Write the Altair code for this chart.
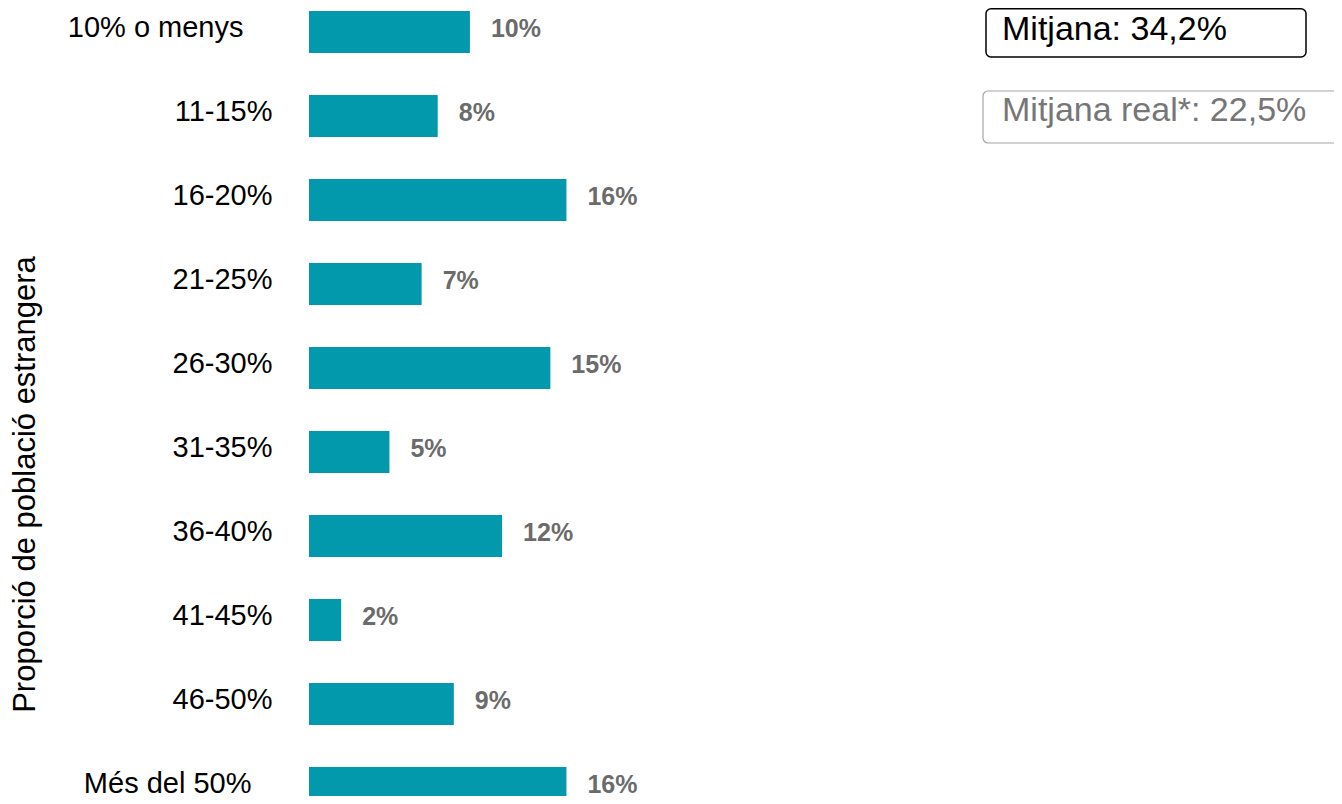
import altair as alt
import pandas as pd

categories = ["10% o menys", "11-15%", "16-20%", "21-25%", "26-30%",
              "31-35%", "36-40%", "41-45%", "46-50%", "Més del 50%"]
values = [10, 8, 16, 7, 15, 5, 12, 2, 9, 16]
value_labels = ["10%", "8%", "16%", "7%", "15%", "5%", "12%", "2%", "9%", "16%"]
box_texts = ["Mitjana: 34,2%", "Mitjana real*: 22,5%"]

df = pd.DataFrame({"cat": categories, "val": values, "lab": value_labels})

FONT = "Liberation Sans"
BAR = "#0399ad"

label_pad = {
    "condition": [
        {"test": "datum.value === '10% o menys'", "value": 66},
        {"test": "datum.value === 'Més del 50%'", "value": 58},
    ],
    "value": 37,
}

y_enc = alt.Y(
    "cat:N", sort=None,
    scale=alt.Scale(range=[0, 798], paddingInner=0.5, paddingOuter=0),
    axis=alt.Axis(
        title="Proporció de població estrangera",
        titleFont=FONT, titleFontSize=31, titleFontWeight="normal", titleColor="#000000",
        titleAngle=270, titleX=-275, titleY=473, titleAlign="center",
        titleBaseline="alphabetic",
        labelFont=FONT, labelFontSize=29, labelColor="#000000",
        labelPadding=label_pad, labelAlign="right", labelBaseline="middle",
        labelOffset=-4, labelLimit=400,
        domain=False, ticks=False, grid=False,
    ),
)
x_enc = alt.X("val:Q", scale=alt.Scale(domain=[0, 63.7]), axis=None)

bars = alt.Chart(df).mark_bar(color=BAR).encode(x=x_enc, y=y_enc)
labels = alt.Chart(df).mark_text(
    align="left", baseline="middle", dx=21, dy=-3, font=FONT, fontSize=25,
    fontWeight="bold", color="#6b6b6b"
).encode(x=x_enc, y=alt.Y("cat:N", sort=None), text="lab:N")

box_df = pd.DataFrame({"t": box_texts})

box1 = alt.Chart(box_df.iloc[[0]]).mark_rect(
    fill="white", stroke="#000000", strokeWidth=1.5, cornerRadius=5
).encode(x=alt.value(677), x2=alt.value(997), y=alt.value(-2.2), y2=alt.value(46))
text1 = alt.Chart(box_df.iloc[[0]]).mark_text(
    align="left", baseline="alphabetic", font=FONT, fontSize=34, color="#000000"
).encode(x=alt.value(693), y=alt.value(29), text="t:N")

box2 = alt.Chart(box_df.iloc[[1]]).mark_rect(
    fill="white", stroke="#a6a6a6", strokeWidth=1.2, cornerRadius=5
).encode(x=alt.value(674), x2=alt.value(1045), y=alt.value(80), y2=alt.value(132))
text2 = alt.Chart(box_df.iloc[[1]]).mark_text(
    align="left", baseline="alphabetic", font=FONT, fontSize=34, color="#767676"
).encode(x=alt.value(693), y=alt.value(110), text="t:N")

chart = alt.layer(bars, labels, box1, text1, box2, text2).properties(
    width=1025, height=785,
    autosize=alt.AutoSizeParams(type="none"),
    padding={"left": 301, "top": 3, "right": 0, "bottom": 0},
    background="white",
).configure_view(strokeWidth=0, stroke=None)

chart.save("out.html", embed_options={"renderer": "svg", "actions": False})
